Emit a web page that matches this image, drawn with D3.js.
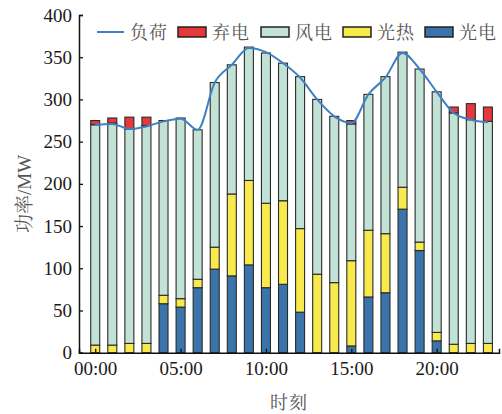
<!DOCTYPE html>
<html><head><meta charset="utf-8">
<script src="https://cdn.jsdelivr.net/npm/d3@7"></script>
<style>body{margin:0;background:#fff}svg{display:block}</style>
</head><body>
<svg id="c" width="502" height="414"></svg>
<script>
const hours = d3.range(24);
const xTickLabels = ["00:00","05:00","10:00","15:00","20:00"];
const xTickValues = [0,5,10,15,20];
const yTicks = [0,50,100,150,200,250,300,350,400];
const pv      = [0,0,0,0,58,54,77,99,91,104,77,81,48,0,0,8,66,71,170,121,14,0,0,0];
const csp     = [9,9,11,11,10,10,10,26,97,100,100,99,99,93,83,101,79,70,26,10,10,10,11,11];
const wind    = [261,263,254,258,207,214,177,195,153,158,178,163,180,207,197,162,161,186,160,205,285,274,265,263];
const curtail = [5,6,14,10,0,0,0,0,0,0,0,0,0,0,0,4,0,0,0,0,0,7,19,17];
const load    = [270,271,265,268,274,277,264,320,341,361,356,343,326,300,280,272,306,326,355,336,309,284,276,273];
const seriesKeys = ["pv","csp","wind","curtail"];
const seriesNames = {pv:"光电",csp:"光热",wind:"风电",curtail:"弃电"};
const colors = {pv:"#3a74aa",csp:"#f8e94c",wind:"#c1e2d5",curtail:"#e5383a",load:"#3f80c2"};

const svg = d3.select("#c");
const x = d3.scaleLinear().domain([-0.95,23.65]).range([79,499]);
const y = d3.scaleLinear().domain([0,400]).range([352.7,15]);
const bw = 9;

const rows = hours.map(i=>({i,pv:pv[i],csp:csp[i],wind:wind[i],curtail:curtail[i]}));
const stack = d3.stack().keys(seriesKeys)(rows);

svg.append("g").selectAll("g").data(stack).join("g")
  .attr("fill",d=>colors[d.key])
  .selectAll("rect").data(d=>d.filter(s=>s[1]-s[0]>0)).join("rect")
  .attr("x",d=>x(d.data.i)-bw/2).attr("width",bw)
  .attr("y",d=>y(d[1])).attr("height",d=>y(d[0])-y(d[1]))
  .attr("stroke","#2a2a2a").attr("stroke-width",1.1);

const line = d3.line().x((d,i)=>x(i)).y(d=>y(d)).curve(d3.curveMonotoneX);
svg.append("path").datum(load).attr("d",line).attr("fill","none")
  .attr("stroke",colors.load).attr("stroke-width",2);

const SERIF = '"Liberation Serif"';
const CJK = '"Noto Serif CJK SC"';

const yAxis = svg.append("g").attr("transform","translate(79,0)")
  .call(d3.axisLeft(y).tickValues(yTicks).tickSizeInner(-4).tickSizeOuter(-4).tickPadding(7));
const xAxis = svg.append("g").attr("transform","translate(0,352.7)")
  .call(d3.axisBottom(x).tickValues(xTickValues).tickFormat((d,i)=>xTickLabels[i]).tickSizeInner(-4).tickSizeOuter(-4).tickPadding(9));
[yAxis,xAxis].forEach(g=>{
  g.attr("font-family",null).attr("font-size",null);
  g.select(".domain").attr("stroke","#111").attr("stroke-width",1.5);
  g.selectAll(".tick line").attr("stroke","#111").attr("stroke-width",1.3);
  g.selectAll(".tick text").style("font-family",SERIF).style("font-size","19px")
    .attr("fill","#1a1a1a");
});

const yt = svg.append("text").attr("transform","translate(31,194) rotate(-90)")
  .attr("text-anchor","middle").style("font-size","19px").attr("fill","#555");
yt.append("tspan").style("font-family",CJK).text("功率");
yt.append("tspan").style("font-family",SERIF).text("/MW");
svg.append("text").attr("x",289).attr("y",409).attr("text-anchor","middle")
  .style("font-family",CJK).style("font-size","18px").attr("fill","#555").style("letter-spacing","1px").text("时刻");

// legend
const lg = svg.append("g").attr("fill","#555");
lg.append("line").attr("x1",97).attr("x2",124).attr("y1",32).attr("y2",32).attr("stroke",colors.load).attr("stroke-width",2);
lg.append("text").attr("x",130).attr("y",38.5).style("font-family",CJK).style("font-size","18px").style("letter-spacing","1px").text("负荷");
const legItems = [["curtail",178],["wind",261],["csp",343],["pv",425]];
legItems.forEach(([k,lx])=>{
  lg.append("rect").attr("x",lx).attr("y",27).attr("width",28).attr("height",10)
    .attr("fill",colors[k]).attr("stroke","#222").attr("stroke-width",1.5);
  lg.append("text").attr("x",lx+34).attr("y",38.5).style("font-family",CJK).style("font-size","18px")
    .style("letter-spacing","1px").text(seriesNames[k]);
});
</script>
</body></html>
